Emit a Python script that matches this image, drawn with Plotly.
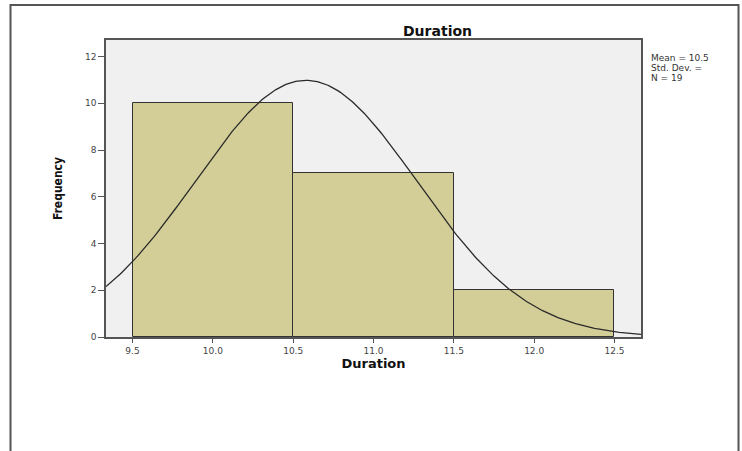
import numpy as np
import plotly.graph_objects as go

# ---- data ----
bin_centers = [10.0, 11.0, 12.0]
bin_counts = [10, 7, 2]
bin_width = 1.0
mean_val = 10.58
sd_val = 0.69
n_val = 19
x_ticks = [9.5, 10.0, 10.5, 11.0, 11.5, 12.0, 12.5]
x_tick_labels = ["9.5", "10.0", "10.5", "11.0", "11.5", "12.0", "12.5"]
y_ticks = [0, 2, 4, 6, 8, 10, 12]
legend_lines = ["Mean = 10.5", "Std. Dev. =", "N = 19"]

x_range = [9.335, 12.665]
y_range = [0, 12.71]

# fitted normal curve (as drawn by SPSS from mean, sd, N)
xc = np.linspace(x_range[0], x_range[1], 300)
yc = n_val * bin_width / (sd_val * np.sqrt(2 * np.pi)) * np.exp(-0.5 * ((xc - mean_val) / sd_val) ** 2)

fig = go.Figure()
fig.add_trace(go.Bar(
    x=bin_centers, y=bin_counts, width=bin_width,
    marker=dict(color="#D3CE97", line=dict(color="#333333", width=1)),
    hoverinfo="x+y", showlegend=False,
))
fig.add_trace(go.Scatter(
    x=xc, y=yc, mode="lines",
    line=dict(color="#2a2a2a", width=1.3),
    showlegend=False, hoverinfo="skip",
))

W, H = 742, 451
L, R, T, B = 106, 101, 40, 114
pw, ph = W - L - R, H - T - B

def px_x(p):
    return (p - L) / pw

def px_y(p):
    return (H - B - p) / ph

fig.update_layout(
    width=W, height=H,
    margin=dict(l=L, r=R, t=T, b=B, pad=0),
    paper_bgcolor="white",
    plot_bgcolor="#F0F0F0",
    bargap=0,
    font=dict(family="DejaVu Sans, sans-serif", color="#333333"),
    xaxis=dict(
        range=x_range, tickvals=x_ticks, ticktext=x_tick_labels,
        showgrid=False, zeroline=False,
        showline=True, linecolor="#555555", linewidth=1.5, mirror=True,
        ticks="outside", ticklen=4, tickcolor="#555555",
        tickfont=dict(size=9, color="#444444"),
        title=dict(text="<b>Duration</b>", font=dict(size=13, color="#111111"), standoff=4),
    ),
    yaxis=dict(
        range=y_range, tickvals=y_ticks,
        showgrid=False, zeroline=False,
        showline=True, linecolor="#555555", linewidth=1.5, mirror=True,
        ticks="outside", ticklen=6, tickcolor="#555555",
        tickfont=dict(size=9, color="#444444"),
        title=dict(text="<b>Frequency</b>",
                   font=dict(size=12, color="#111111",
                             family="Liberation Sans Narrow, DejaVu Sans Condensed, sans-serif"),
                   standoff=20),
    ),
)

# chart title
fig.add_annotation(
    text="<b>Duration</b>", xref="paper", yref="paper",
    x=px_x(437), y=px_y(31), xanchor="center", yanchor="middle",
    showarrow=False, font=dict(size=14, color="#111111"),
)

# statistics legend
for txt, yy in zip(legend_lines, [58, 68, 78]):
    fig.add_annotation(
        text=txt, xref="paper", yref="paper",
        x=px_x(649), y=px_y(yy), xanchor="left", yanchor="middle",
        showarrow=False, font=dict(size=9, color="#333333"),
    )

# outer frame
fig.add_shape(
    type="rect", xref="paper", yref="paper",
    x0=px_x(10.5), x1=px_x(738.5), y0=px_y(460), y1=px_y(5),
    line=dict(color="#555555", width=2), fillcolor="rgba(0,0,0,0)", layer="above",
)

fig.write_html(
    "out.html",
    config={"displayModeBar": False},
    post_script="document.body.style.margin='0';document.body.style.overflow='hidden';",
)
